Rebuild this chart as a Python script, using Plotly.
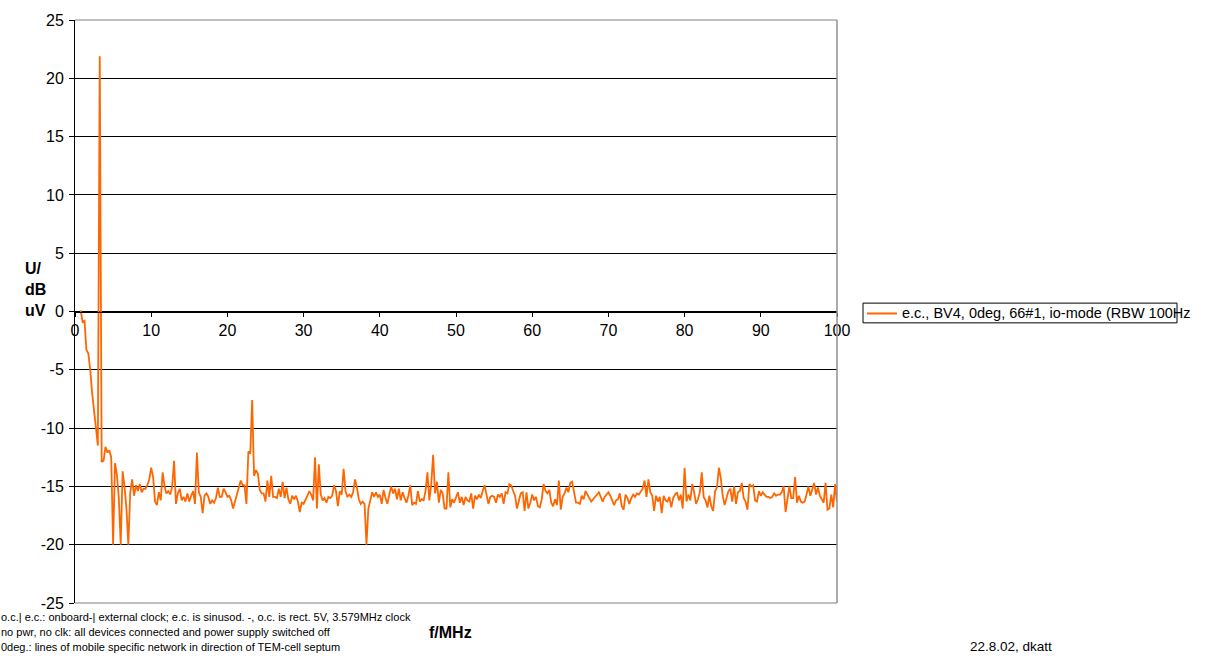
import numpy as np
import plotly.graph_objects as go

# Sweep grid of the receiver (MHz)
freq_start_mhz = 0.75
freq_step_mhz = 0.25

# Measured level in dBuV, one block per 10 MHz
db_00_10 = [0.1, -0.9, -0.8, -3.3, -3.6, -5.0, -7.0, -8.5, -10.4, -11.5,
            21.9, -12.9, -12.8, -11.6, -12.1, -11.9, -12.5, -20.0, -13.0, -14.0,
            -16.0, -20.0, -13.7, -15.0, -16.9, -20.0, -15.5, -14.4, -15.8, -14.9,
            -15.4, -14.8, -15.5, -15.2, -15.2, -14.9, -14.4]
db_10_20 = [-13.4, -14.2, -16.3, -16.6, -15.5, -16.2, -13.8, -15.0, -15.6, -15.4,
            -15.7, -15.0, -12.8, -16.5, -15.6, -15.2, -16.2, -15.9, -16.3, -15.6,
            -16.3, -15.8, -15.4, -16.5, -12.1, -15.5, -15.9, -17.3, -15.8, -15.6,
            -15.9, -16.5, -16.2, -16.4, -16.0, -15.1, -15.9, -15.9, -15.2, -15.5]
db_20_30 = [-15.9, -15.8, -16.2, -16.9, -16.3, -15.9, -15.1, -14.5, -14.9, -14.9,
            -16.5, -12.0, -12.2, -7.6, -14.1, -13.6, -13.9, -15.3, -15.6, -15.6,
            -16.3, -14.5, -15.9, -14.1, -15.9, -15.9, -16.0, -15.2, -15.9, -14.6,
            -16.0, -15.1, -16.1, -16.5, -15.8, -16.1, -15.8, -16.3, -17.2, -16.4]
db_30_40 = [-16.5, -16.2, -15.8, -15.4, -15.7, -16.2, -12.5, -16.9, -13.1, -15.7,
            -16.2, -16.0, -16.4, -15.9, -16.0, -15.8, -14.9, -15.4, -16.7, -15.4,
            -15.7, -13.5, -15.4, -15.9, -15.7, -15.9, -15.5, -14.4, -15.1, -16.1,
            -16.5, -16.3, -16.5, -20.0, -16.9, -16.2, -15.5, -15.9, -15.5, -15.9]
db_40_50 = [-15.7, -16.5, -15.3, -16.0, -16.5, -15.7, -15.0, -15.6, -15.2, -16.1,
            -15.2, -16.2, -15.5, -16.0, -16.4, -15.8, -14.9, -16.6, -16.4, -16.5,
            -15.4, -16.3, -16.1, -16.2, -15.4, -13.8, -16.2, -14.8, -12.3, -15.6,
            -14.6, -16.4, -15.3, -15.6, -16.9, -16.9, -13.8, -16.8, -16.1, -16.4]
db_50_60 = [-15.9, -15.5, -16.4, -15.9, -16.6, -15.9, -16.2, -16.3, -15.6, -16.9,
            -15.8, -16.1, -15.7, -16.0, -15.4, -14.9, -15.7, -16.5, -15.9, -15.8,
            -15.9, -16.4, -15.7, -15.9, -15.6, -16.5, -15.5, -15.6, -14.8, -14.9,
            -15.4, -15.8, -16.9, -16.1, -15.6, -15.5, -17.1, -15.5, -16.9, -16.4]
db_60_70 = [-15.7, -16.2, -15.9, -16.7, -16.8, -16.1, -14.8, -15.4, -15.6, -15.3,
            -16.4, -16.7, -16.1, -16.6, -14.5, -17.0, -15.9, -15.6, -15.1, -15.5,
            -14.7, -14.6, -15.6, -16.4, -16.4, -16.5, -15.8, -16.1, -15.4, -15.7,
            -15.9, -16.3, -16.1, -15.9, -15.6, -15.5, -15.9, -16.3, -15.9, -15.7]
db_70_80 = [-15.5, -15.8, -16.2, -16.6, -16.2, -16.1, -15.6, -16.7, -17.0, -15.7,
            -16.0, -16.5, -16.0, -15.7, -15.9, -15.6, -15.7, -15.5, -15.2, -14.5,
            -15.9, -14.4, -15.5, -15.8, -17.1, -15.8, -16.3, -15.9, -17.3, -15.8,
            -16.2, -16.3, -15.9, -16.8, -16.0, -15.7, -15.5, -16.2, -15.7, -16.9]
db_80_90 = [-13.4, -16.3, -15.7, -16.2, -14.8, -15.5, -16.5, -16.1, -15.5, -13.8,
            -15.9, -16.2, -16.8, -15.8, -16.7, -17.1, -15.4, -15.1, -13.4, -14.3,
            -15.8, -16.6, -16.1, -15.4, -15.2, -16.3, -15.0, -16.5, -15.5, -15.4,
            -14.7, -16.0, -16.3, -17.0, -14.8, -15.0, -14.9, -16.2, -16.3, -15.4]
db_90_100 = [-15.8, -15.5, -15.7, -15.9, -15.9, -16.0, -15.9, -15.6, -15.8, -15.7,
             -15.7, -15.5, -15.0, -17.2, -16.1, -15.0, -16.0, -16.0, -14.2, -16.4,
             -15.8, -16.3, -16.4, -16.3, -15.7, -15.0, -15.8, -15.3, -14.7, -15.7,
             -15.1, -15.8, -16.1, -16.4, -14.7, -17.0, -16.9, -15.7, -16.8, -14.8,
             -16.3]

series_name = "e.c., BV4, 0deg, 66#1, io-mode (RBW 100Hz"
y_tick_values = [-25, -20, -15, -10, -5, 0, 5, 10, 15, 20, 25]
y_tick_labels = ["-25", "-20", "-15", "-10", "-5", "0", "5", "10", "15", "20", "25"]
x_tick_values = [0, 10, 20, 30, 40, 50, 60, 70, 80, 90, 100]
x_tick_labels = ["0", "10", "20", "30", "40", "50", "60", "70", "80", "90", "100"]
notes = [
    "o.c.| e.c.: onboard-| external clock; e.c. is sinusod. -, o.c. is rect. 5V, 3.579MHz clock",
    "no pwr, no clk: all devices connected and power supply switched off",
    "0deg.: lines of mobile specific network in direction of TEM-cell septum",
]
signature = "22.8.02, dkatt"

level_db = (db_00_10 + db_10_20 + db_20_30 + db_30_40 + db_40_50
            + db_50_60 + db_60_70 + db_70_80 + db_80_90 + db_90_100)
freq_mhz = freq_start_mhz + freq_step_mhz * np.arange(len(level_db))

W, H = 1205, 659
PL, PR, PT, PB = 75, 837, 12, 603  # plot-area edges in pixels
FONT = "Arial, Liberation Sans, sans-serif"
ORANGE = "#FF6600"


def px(x):
    return (x - PL) / (PR - PL)


def py(y):
    return (PB - y) / (PB - PT)


fig = go.Figure()
fig.add_trace(go.Scatter(
    x=freq_mhz, y=level_db, mode="lines", name=series_name,
    line=dict(color=ORANGE, width=1.8), showlegend=False,
))

fig.update_layout(
    width=W, height=H,
    margin=dict(l=PL, r=W - PR, t=PT, b=H - PB, pad=0),
    paper_bgcolor="white", plot_bgcolor="white",
    font=dict(family=FONT, size=16, color="black"),
    xaxis=dict(
        range=[0, 100], tickvals=x_tick_values, ticktext=x_tick_labels,
        showgrid=False, zeroline=False,
        showline=True, linecolor="black", linewidth=1,
        ticks="outside", ticklen=4, tickcolor="black",
        anchor="free", position=0.5,
        tickfont=dict(family=FONT, size=16),
        ticklabelstandoff=0,
    ),
    yaxis=dict(
        range=[-25, 25], tickvals=y_tick_values, ticktext=y_tick_labels,
        showgrid=True, gridcolor="black", gridwidth=1, zeroline=False,
        showline=True, linecolor="black", linewidth=1,
        ticks="outside", ticklen=5, tickcolor="black",
        tickfont=dict(family=FONT, size=16),
        ticklabelstandoff=2,
    ),
)

shapes = [
    # plot-area frame (top, right, bottom)
    dict(type="line", xref="paper", yref="paper", x0=0, x1=1, y0=1, y1=1,
         line=dict(color="#808080", width=1)),
    dict(type="line", xref="paper", yref="paper", x0=1, x1=1, y0=0, y1=1,
         line=dict(color="#909090", width=1.5)),
    dict(type="line", xref="paper", yref="paper", x0=0, x1=1, y0=0, y1=0,
         line=dict(color="#808080", width=1)),
    # legend box and sample line
    dict(type="rect", xref="paper", yref="paper",
         x0=px(863), x1=px(1177), y0=py(319), y1=py(299),
         line=dict(color="black", width=1), fillcolor="rgba(0,0,0,0)"),
    dict(type="line", xref="paper", yref="paper",
         x0=px(867), x1=px(897), y0=py(309.5), y1=py(309.5),
         line=dict(color=ORANGE, width=2)),
]
fig.update_layout(shapes=shapes)

annotations = [
    dict(text=series_name, x=px(900), y=py(309.5), xanchor="left", yanchor="middle",
         font=dict(family=FONT, size=14.5)),
    dict(text="<b>U/<br>dB<br>uV</b>", x=px(23), y=py(285), xanchor="left",
         yanchor="middle", align="left", font=dict(family=FONT, size=16)),
    dict(text="<b>f/MHz</b>", x=px(450), y=py(633), xanchor="center",
         yanchor="middle", font=dict(family=FONT, size=16)),
    dict(text=signature, x=px(1011), y=py(647), xanchor="center", yanchor="middle",
         font=dict(family=FONT, size=13.5)),
]
for i, line in enumerate(notes):
    annotations.append(dict(text=line, x=px(-1), y=py(617 + 15.5 * i), xanchor="left",
                            yanchor="middle", font=dict(family=FONT, size=11)))
for a in annotations:
    a.update(xref="paper", yref="paper", showarrow=False)
fig.update_layout(annotations=annotations)

fig.write_html("out.html")
